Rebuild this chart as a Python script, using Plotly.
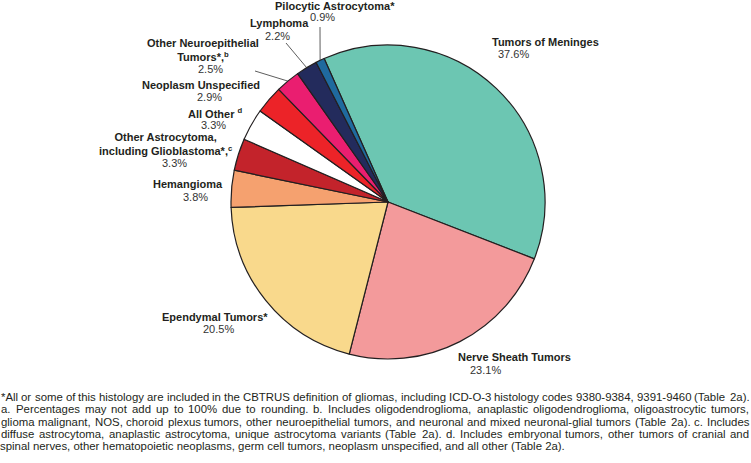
import math
import plotly.graph_objects as go

W, H = 751, 463

# ---- data ----
categories = [
    "Tumors of Meninges", "Nerve Sheath Tumors", "Ependymal Tumors*", "Hemangioma",
    "Other Astrocytoma, including Glioblastoma*,c", "All Other d", "Neoplasm Unspecified",
    "Other Neuroepithelial Tumors*,b", "Lymphoma", "Pilocytic Astrocytoma*",
]
values = [37.6, 23.1, 20.5, 3.8, 3.3, 3.3, 2.9, 2.5, 2.2, 0.9]
pct_labels = ["37.6%", "23.1%", "20.5%", "3.8%", "3.3%", "3.3%", "2.9%", "2.5%", "2.2%", "0.9%"]
name_labels = [
    "Tumors of Meninges", "Nerve Sheath Tumors", "Ependymal Tumors*", "Hemangioma",
    "Other Astrocytoma,<br>including Glioblastoma*,<sup>c</sup>", "All Other <sup>d</sup>",
    "Neoplasm Unspecified", "Other Neuroepithelial<br>Tumors*,<sup>b</sup>", "Lymphoma",
    "Pilocytic Astrocytoma*",
]
footnote_lines = [
    "*All or some of this histology are included in the CBTRUS definition of gliomas, including ICD-O-3 histology codes 9380-9384, 9391-9460 (Table 2a).",
    "a. Percentages may not add up to 100% due to rounding. b. Includes oligodendroglioma, anaplastic oligodendroglioma, oligoastrocytic tumors,",
    "glioma malignant, NOS, choroid plexus tumors, other neuroepithelial tumors, and neuronal and mixed neuronal-glial tumors (Table 2a). c. Includes",
    "diffuse astrocytoma, anaplastic astrocytoma, unique astrocytoma variants (Table 2a). d. Includes embryonal tumors, other tumors of cranial and",
    "spinal nerves, other hematopoietic neoplasms, germ cell tumors, neoplasm unspecified, and all other (Table 2a).",
]

# ---- styles ----
colors = ["#6CC6B2", "#F39A9B", "#F9D98C", "#F5A16F", "#C3232B", "#FFFFFF",
          "#EC2328", "#EA1E70", "#232B5C", "#1F6A9E"]
rotation = -24
cx, cy, R = 388, 202, 157
FONT = "Liberation Sans, Arial, Helvetica, sans-serif"

# label centre positions in pixels: (name_x, name_y, pct_x, pct_y)
label_pos = [
    (545, 42, 513, 54),
    (514, 357, 485, 370),
    (215, 317, 218, 329),
    (188, 184, 195, 197),
    (166, 144, 174, 163),
    (215, 113, 213, 125),
    (201, 85, 209, 97),
    (203, 50, 211, 69),
    (279, 23, 277, 36),
    (335, 6, 322, 17),
]
# leader line outer ends (pixel) for small slices
leader_ends = {9: (320, 27), 8: (286, 43), 7: (255, 71)}

def px(x):
    return x / W

def py(y):
    return 1 - y / H

fig = go.Figure(go.Pie(
    labels=categories,
    values=values,
    sort=False,
    direction="clockwise",
    rotation=rotation,
    marker=dict(colors=colors, line=dict(color="#231F20", width=1.2)),
    textinfo="none",
    hoverinfo="label+percent",
    domain=dict(x=[px(cx - R), px(cx + R)], y=[py(cy + R), py(cy - R)]),
    showlegend=False,
))

annotations = []
for i, (nx, ny, tx, ty) in enumerate(label_pos):
    annotations.append(dict(
        x=px(nx), y=py(ny), xref="paper", yref="paper", showarrow=False,
        text="<b>" + name_labels[i] + "</b>", xanchor="center", yanchor="middle",
        font=dict(family=FONT, size=11, color="#231F20"),
    ))
    annotations.append(dict(
        x=px(tx), y=py(ty), xref="paper", yref="paper", showarrow=False,
        text=pct_labels[i], xanchor="center", yanchor="middle",
        font=dict(family=FONT, size=11, color="#333333"),
    ))

shapes = []
total = sum(values)
cum = 0.0
for i, v in enumerate(values):
    a0 = rotation + cum / total * 360
    cum += v
    a1 = rotation + cum / total * 360
    if i in leader_ends:
        mid = math.radians((a0 + a1) / 2)
        sx = cx + R * math.sin(mid)
        sy = cy - R * math.cos(mid)
        ex, ey = leader_ends[i]
        shapes.append(dict(type="line", xref="paper", yref="paper",
                           x0=px(sx), y0=py(sy), x1=px(ex), y1=py(ey),
                           line=dict(color="#333333", width=0.8)))

# ---- justified footnote (Arial / Liberation Sans advance widths, 1/1000 em) ----
CW = {' ': 278, '*': 389, ',': 278, '.': 278, '-': 333, '(': 333, ')': 333, '%': 889,
      '0': 556, '1': 556, '2': 556, '3': 556, '4': 556, '5': 556, '6': 556, '7': 556,
      '8': 556, '9': 556,
      'A': 667, 'B': 667, 'C': 722, 'D': 722, 'E': 667, 'F': 611, 'G': 778, 'H': 722,
      'I': 278, 'J': 500, 'K': 667, 'L': 556, 'M': 833, 'N': 722, 'O': 778, 'P': 667,
      'Q': 778, 'R': 722, 'S': 667, 'T': 611, 'U': 722, 'V': 667, 'W': 944, 'X': 667,
      'Y': 667, 'Z': 611,
      'a': 556, 'b': 556, 'c': 500, 'd': 556, 'e': 556, 'f': 278, 'g': 556, 'h': 556,
      'i': 222, 'j': 222, 'k': 500, 'l': 222, 'm': 833, 'n': 556, 'o': 556, 'p': 556,
      'q': 556, 'r': 333, 's': 500, 't': 278, 'u': 556, 'v': 500, 'w': 722, 'x': 500,
      'y': 500, 'z': 500}
FS = 11.4
LEFT, RIGHT = 1.0, 749.5

def tw(s):
    return sum(CW.get(ch, 556) for ch in s) * FS / 1000.0

foot_y = [397, 409.3, 421.5, 433.8, 446]
for li, (line, yy) in enumerate(zip(footnote_lines, foot_y)):
    last = li == len(footnote_lines) - 1
    if last:
        annotations.append(dict(
            x=px(LEFT - 1), y=py(yy), xref="paper", yref="paper", showarrow=False,
            text=line, xanchor="left", yanchor="middle", borderpad=0, borderwidth=0,
            font=dict(family=FONT, size=FS, color="#231F20"),
        ))
        continue
    words = line.split(" ")
    widths = [tw(w) for w in words]
    gap = (RIGHT - LEFT - sum(widths)) / (len(words) - 1)
    xcur = LEFT
    for w, wd in zip(words, widths):
        annotations.append(dict(
            x=px(xcur), y=py(yy), xref="paper", yref="paper", showarrow=False,
            text=w, xanchor="left", yanchor="middle", borderpad=0, borderwidth=0,
            font=dict(family=FONT, size=FS, color="#231F20"),
        ))
        xcur += wd + gap

fig.update_layout(
    width=W, height=H,
    margin=dict(l=0, r=0, t=0, b=0),
    paper_bgcolor="white", plot_bgcolor="white",
    annotations=annotations, shapes=shapes,
)

fig.write_html("out.html", config={"displayModeBar": False},
               post_script="document.body.style.margin='0';")
